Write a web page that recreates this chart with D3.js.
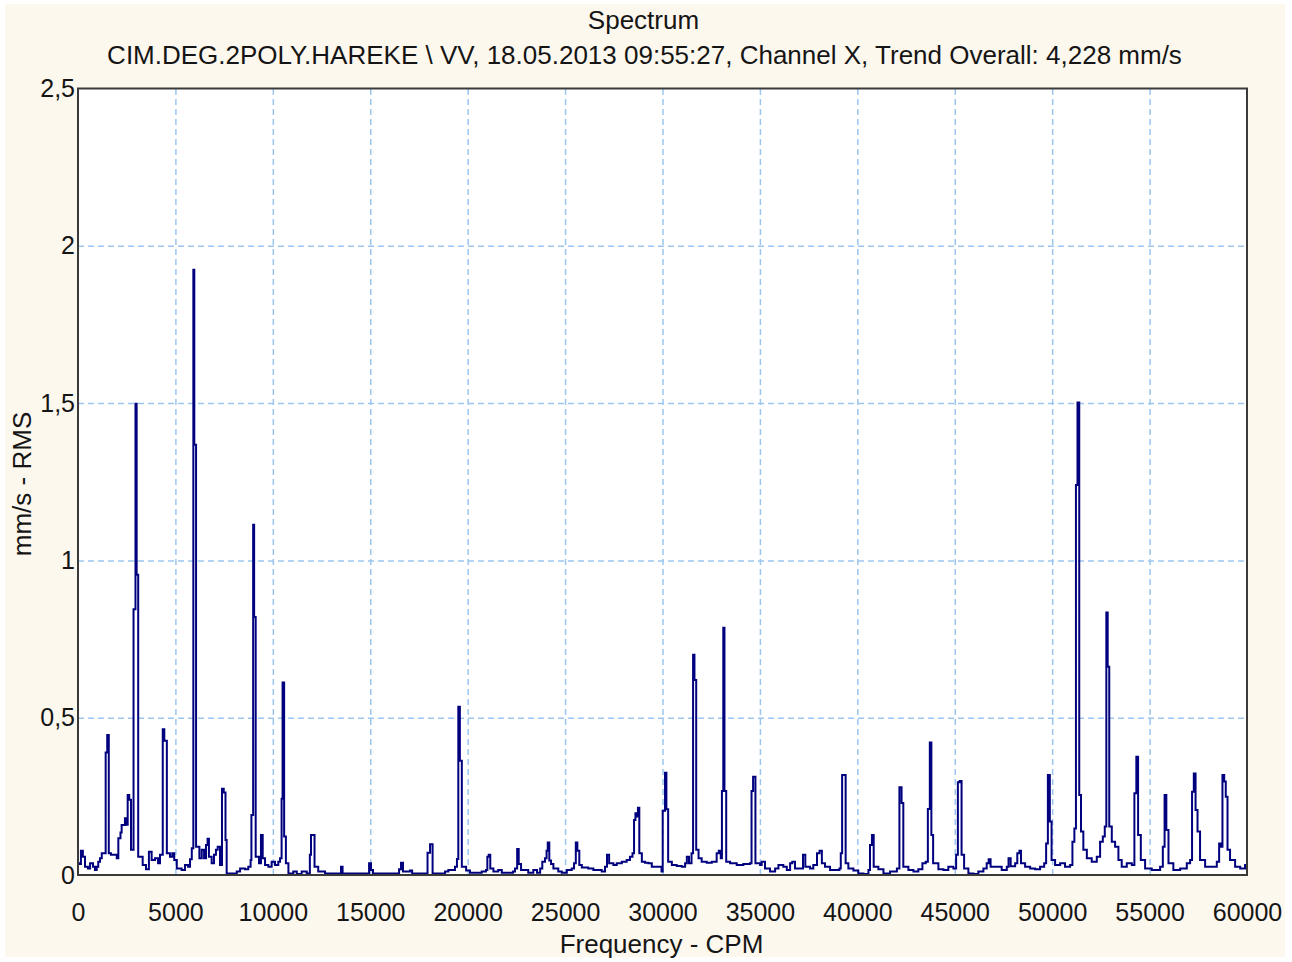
<!DOCTYPE html>
<html>
<head>
<meta charset="utf-8">
<script src="https://cdn.jsdelivr.net/npm/d3@7"></script>
<style>
  html, body { margin: 0; padding: 0; background: #ffffff; }
  svg { display: block; }
  text { font-family: "Liberation Sans", Arial, sans-serif; fill: #151515; }
</style>
</head>
<body>
<svg id="chart" width="1292" height="962"></svg>
<script>
// ---- texts ----
const chartTitle = "Spectrum";
const chartSubtitle = "CIM.DEG.2POLY.HAREKE \\ VV, 18.05.2013 09:55:27, Channel X, Trend Overall: 4,228 mm/s";
const xAxisTitle = "Frequency - CPM";
const yAxisTitle = "mm/s - RMS";

// ---- axis ticks ----
const xTickValues = [0, 5000, 10000, 15000, 20000, 25000, 30000, 35000, 40000, 45000, 50000, 55000, 60000];
const yTickValues = [0, 0.5, 1, 1.5, 2, 2.5];
const yTickLabels = ["0", "0,5", "1", "1,5", "2", "2,5"];

// ---- spectrum: [frequency CPM, velocity mm/s RMS], split by frequency band ----
const band0to15k = [
  [0,0.037],[80,0.035],[150,0.077],[250,0.058],[360,0.026],[510,0.021],[620,0.037],[770,0.026],
  [870,0.016],[960,0.026],[1040,0.042],[1130,0.053],[1220,0.069],[1420,0.389],[1500,0.445],[1580,0.069],
  [1690,0.064],[1810,0.064],[1990,0.053],[2070,0.117],[2180,0.135],[2240,0.159],[2410,0.18],[2490,0.16],
  [2550,0.254],[2630,0.239],[2720,0.08],[2850,0.845],[2950,1.498],[3010,0.954],[3090,0.058],[3180,0.058],
  [3320,0.032],[3490,0.018],[3640,0.074],[3780,0.048],[3950,0.053],[4110,0.037],[4210,0.064],[4350,0.463],
  [4430,0.427],[4560,0.069],[4720,0.058],[4840,0.069],[4940,0.048],[5070,0.021],[5320,0.016],[5490,0.032],
  [5650,0.026],[5750,0.05],[5840,0.085],[5920,1.924],[5970,1.368],[6060,0.09],[6230,0.053],[6350,0.08],
  [6470,0.053],[6570,0.095],[6650,0.115],[6720,0.058],[6860,0.037],[6980,0.064],[7080,0.08],[7170,0.09],
  [7290,0.032],[7390,0.274],[7480,0.262],[7570,0.111],[7630,0.005],[7970,0.005],[8150,0.011],[8320,0.021],
  [8570,0.018],[8740,0.026],[8860,0.048],[8900,0.191],[8990,1.113],[9040,0.82],[9120,0.058],[9290,0.037],
  [9390,0.127],[9480,0.053],[9600,0.032],[9770,0.026],[9940,0.042],[10110,0.032],[10280,0.042],[10370,0.053],
  [10450,0.242],[10500,0.612],[10580,0.122],[10670,0.037],[10800,0.005],[11050,0.011],[11230,0.003],[11480,0.011],
  [11740,0.005],[11900,0.064],[11960,0.127],[12140,0.026],[12330,0.011],[12680,0.005],[13500,0.026],[13580,0.005],
  [14940,0.037],[15040,0.016],[15140,0.005]
];
const band15kto30k = [
  [15500,0.005],[16480,0.018],[16580,0.039],[16680,0.011],[17040,0.014],[17150,0.005],[17940,0.071],[18070,0.098],
  [18200,0.005],[18840,0.011],[19010,0.016],[19350,0.026],[19450,0.051],[19520,0.535],[19600,0.363],[19700,0.026],
  [19920,0.014],[20120,0.007],[20720,0.011],[20940,0.016],[21010,0.058],[21080,0.064],[21160,0.021],[21320,0.011],
  [21570,0.016],[21750,0.007],[22330,0.011],[22430,0.021],[22540,0.083],[22620,0.035],[22740,0.016],[23110,0.007],
  [23370,0.016],[23560,0.007],[23720,0.021],[23830,0.042],[23970,0.053],[24050,0.077],[24110,0.103],[24190,0.046],
  [24280,0.035],[24400,0.021],[24650,0.011],[24830,0.007],[25090,0.016],[25340,0.021],[25460,0.037],[25550,0.103],
  [25630,0.077],[25730,0.032],[25860,0.024],[26190,0.021],[26450,0.016],[26880,0.011],[27050,0.026],[27150,0.064],
  [27260,0.037],[27480,0.032],[27650,0.037],[27910,0.042],[28160,0.048],[28330,0.058],[28460,0.069],[28540,0.175],
  [28610,0.196],[28680,0.186],[28740,0.214],[28810,0.069],[28940,0.042],[29100,0.039],[29270,0.037],[29450,0.026],
  [29700,0.026],[29950,0.011]
];
const band30kto45k = [
  [30010,0.204],[30130,0.325],[30200,0.209],[30290,0.042],[30480,0.032],[30730,0.029],[30990,0.026],[31160,0.037],
  [31250,0.058],[31360,0.037],[31490,0.069],[31570,0.70],[31640,0.62],[31730,0.08],[31850,0.053],[32010,0.042],
  [32270,0.039],[32530,0.042],[32780,0.069],[32890,0.077],[32990,0.053],[33050,0.267],[33120,0.786],[33180,0.267],
  [33270,0.042],[33470,0.037],[33810,0.032],[34150,0.035],[34490,0.037],[34570,0.267],[34650,0.312],[34770,0.037],
  [35010,0.032],[35090,0.042],[35260,0.021],[35520,0.011],[35780,0.021],[35950,0.032],[36200,0.026],[36380,0.016],
  [36550,0.037],[36660,0.042],[36800,0.021],[37060,0.021],[37210,0.064],[37330,0.026],[37570,0.021],[37740,0.032],
  [37930,0.069],[38060,0.077],[38180,0.037],[38340,0.026],[38600,0.016],[38860,0.016],[39080,0.021],[39150,0.069],
  [39220,0.318],[39400,0.037],[39540,0.021],[39800,0.014],[40050,0.005],[40310,0.003],[40570,0.016],[40650,0.095],
  [40750,0.127],[40840,0.026],[41080,0.018],[41340,0.005],[41680,0.011],[42030,0.021],[42160,0.279],[42270,0.229],
  [42360,0.026],[42620,0.016],[42880,0.011],[43130,0.018],[43340,0.037],[43510,0.042],[43620,0.21],[43720,0.421],
  [43800,0.127],[43890,0.037],[44160,0.018],[44420,0.016],[44670,0.026],[44930,0.021]
];
const band45kto60k = [
  [45070,0.064],[45160,0.295],[45250,0.299],[45350,0.064],[45480,0.021],[45700,0.005],[45960,0.003],[46210,0.011],
  [46470,0.021],[46640,0.037],[46740,0.05],[46840,0.026],[47160,0.026],[47410,0.016],[47670,0.026],[47760,0.053],
  [47870,0.028],[48100,0.037],[48210,0.069],[48320,0.077],[48400,0.037],[48610,0.026],[48870,0.021],[49120,0.018],
  [49380,0.026],[49590,0.037],[49690,0.1],[49780,0.318],[49880,0.17],[49970,0.048],[50150,0.032],[50410,0.037],
  [50660,0.026],[50920,0.032],[51040,0.106],[51140,0.148],[51220,1.24],[51300,1.502],[51390,0.254],[51480,0.138],
  [51600,0.08],[51780,0.053],[52030,0.042],[52290,0.058],[52460,0.106],[52600,0.122],[52700,0.154],[52780,0.834],
  [52850,0.662],[52930,0.154],[53060,0.106],[53230,0.09],[53400,0.048],[53570,0.026],[53830,0.037],[54090,0.032],
  [54220,0.26],[54320,0.376],[54410,0.127],[54550,0.048],[54770,0.021],[55110,0.016],[55540,0.026],[55680,0.09],
  [55770,0.254],[55860,0.143],[55970,0.037],[56220,0.016],[56570,0.021],[56910,0.037],[57080,0.048],[57180,0.265],
  [57270,0.323],[57360,0.207],[57460,0.138],[57590,0.048],[57850,0.026],[58200,0.026],[58450,0.042],[58570,0.1],
  [58670,0.09],[58740,0.318],[58830,0.297],[58910,0.249],[59000,0.08],[59130,0.048],[59390,0.026],[59650,0.021],
  [59900,0.032],[60000,0.032]
];

// ---- layout ----
const W = 1292, H = 962;
const plot = { left: 78, right: 1247, top: 88.5, bottom: 875 };
const tickFont = 25;
const titleFont = 26;

const svg = d3.select("#chart");

// page and panel backgrounds
svg.append("rect").attr("width", W).attr("height", H).attr("fill", "#ffffff");
svg.append("rect").attr("x", 5).attr("y", 4).attr("width", 1280).attr("height", 953).attr("fill", "#fdf8ee");
svg.append("rect")
  .attr("x", plot.left).attr("y", plot.top)
  .attr("width", plot.right - plot.left).attr("height", plot.bottom - plot.top)
  .attr("fill", "#ffffff");

const x = d3.scaleLinear().domain([0, 60000]).range([plot.left, plot.right]);
const y = d3.scaleLinear().domain([0, 2.5]).range([plot.bottom, plot.top]);

// dashed grid
const gridStyle = g => g.selectAll("line")
  .attr("stroke", "#9cc6f0").attr("stroke-width", 1.5).attr("stroke-dasharray", "6,4");

svg.append("g")
  .attr("transform", `translate(0,${plot.bottom})`)
  .call(d3.axisBottom(x).tickValues(xTickValues.slice(1, -1)).tickSize(-(plot.bottom - plot.top)).tickFormat(""))
  .call(g => g.select(".domain").remove())
  .call(gridStyle);

svg.append("g")
  .attr("transform", `translate(${plot.left},0)`)
  .call(d3.axisLeft(y).tickValues(yTickValues.slice(1, -1)).tickSize(-(plot.right - plot.left)).tickFormat(""))
  .call(g => g.select(".domain").remove())
  .call(gridStyle);

// spectrum trace
svg.append("clipPath").attr("id", "plotClip")
  .append("rect")
  .attr("x", plot.left).attr("y", plot.top - 1)
  .attr("width", plot.right - plot.left).attr("height", plot.bottom - plot.top + 1);

const spectrum = band0to15k.concat(band15kto30k, band30kto45k, band45kto60k);
const line = d3.line()
  .x(d => x(d[0]))
  .y(d => y(d[1]))
  .curve(d3.curveStepAfter);

svg.append("path")
  .datum(spectrum)
  .attr("clip-path", "url(#plotClip)")
  .attr("fill", "none")
  .attr("stroke", "#00007f")
  .attr("stroke-width", 2)
  .attr("stroke-linejoin", "miter")
  .attr("d", line);

// frame
svg.append("rect")
  .attr("x", plot.left).attr("y", plot.top)
  .attr("width", plot.right - plot.left).attr("height", plot.bottom - plot.top)
  .attr("fill", "none").attr("stroke", "#3a3a3a").attr("stroke-width", 2);

// tick labels
svg.append("g")
  .attr("transform", `translate(0,${plot.bottom})`)
  .call(d3.axisBottom(x).tickValues(xTickValues).tickSize(0).tickPadding(28).tickFormat(d3.format("d")))
  .call(g => g.select(".domain").remove())
  .call(g => g.selectAll("text").attr("font-size", tickFont).attr("font-family", null).attr("fill", "#151515"));

svg.append("g")
  .attr("transform", `translate(${plot.left},0)`)
  .call(d3.axisLeft(y).tickValues(yTickValues).tickSize(0).tickPadding(3)
    .tickFormat((d, i) => yTickLabels[i]))
  .call(g => g.select(".domain").remove())
  .call(g => g.selectAll("text").attr("font-size", tickFont).attr("font-family", null).attr("fill", "#151515"));

// titles
svg.append("text").attr("x", 643.5).attr("y", 29).attr("text-anchor", "middle")
  .attr("font-size", titleFont).text(chartTitle);
svg.append("text").attr("x", 644.5).attr("y", 64).attr("text-anchor", "middle")
  .attr("font-size", titleFont).text(chartSubtitle);
svg.append("text").attr("x", 661.5).attr("y", 953).attr("text-anchor", "middle")
  .attr("font-size", titleFont).text(xAxisTitle);
svg.append("text").attr("transform", "translate(31,484) rotate(-90)").attr("text-anchor", "middle")
  .attr("font-size", titleFont).text(yAxisTitle);
</script>
</body>
</html>
